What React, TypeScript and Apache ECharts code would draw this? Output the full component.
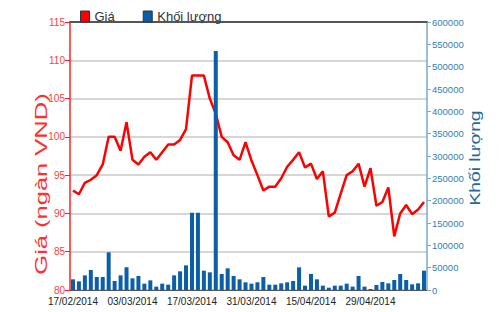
import React, { useEffect, useRef } from "react";
import * as echarts from "echarts";

const dates = [
  "17/02/2014", "18/02/2014", "19/02/2014", "20/02/2014", "21/02/2014",
  "24/02/2014", "25/02/2014", "26/02/2014", "27/02/2014", "28/02/2014",
  "03/03/2014", "04/03/2014", "05/03/2014", "06/03/2014", "07/03/2014",
  "10/03/2014", "11/03/2014", "12/03/2014", "13/03/2014", "14/03/2014",
  "17/03/2014", "18/03/2014", "19/03/2014", "20/03/2014", "21/03/2014",
  "24/03/2014", "25/03/2014", "26/03/2014", "27/03/2014", "28/03/2014",
  "31/03/2014", "01/04/2014", "02/04/2014", "03/04/2014", "04/04/2014",
  "07/04/2014", "08/04/2014", "10/04/2014", "11/04/2014", "14/04/2014",
  "15/04/2014", "16/04/2014", "17/04/2014", "18/04/2014", "21/04/2014",
  "22/04/2014", "23/04/2014", "24/04/2014", "25/04/2014", "28/04/2014",
  "29/04/2014", "02/05/2014", "05/05/2014", "06/05/2014", "07/05/2014",
  "08/05/2014", "09/05/2014", "12/05/2014", "13/05/2014", "14/05/2014",
];

const price = [
  93.0, 92.5, 94.0, 94.4, 95.0, 96.4, 100, 100, 98.2, 101.9,
  97.0, 96.4, 97.4, 98.0, 97.0, 98.0, 99.0, 99.0, 99.6, 101.0,
  108, 108, 108, 105, 103, 100, 99.3, 97.6, 97.0, 99.3,
  96.9, 95.0, 93.0, 93.5, 93.5, 94.6, 96.1, 97.0, 98.0, 96.0,
  96.5, 94.5, 95.5, 89.6, 90.1, 92.6, 95.0, 95.5, 96.5, 93.5,
  95.9, 91.0, 91.5, 93.4, 87.0, 90.0, 91.1, 89.9, 90.5, 91.5,
];

const volume = [
  23900, 19400, 32800, 44800, 29100, 29100, 84300, 20100, 32800, 50700,
  26100, 31300, 14200, 21600, 7500, 14200, 11900, 32800, 41800, 55200,
  173000, 173000, 43300, 39500, 535000, 35800, 48500, 31300, 23900, 17200,
  14200, 17200, 29100, 11900, 11900, 14900, 17200, 20100, 50700, 9700,
  35800, 23900, 9700, 5200, 9700, 9700, 14200, 7500, 31300, 7500,
  2200, 11200, 17900, 14900, 22400, 35800, 22400, 12700, 14900, 43300,
];

const seriesNames = ["Giá", "Khối lượng"];
const leftAxisName = "Giá (ngàn VND)";
const rightAxisName = "Khối lượng";

const sans = "'Liberation Sans', Arial, sans-serif";

export default function App() {
  const ref = useRef<HTMLDivElement>(null);

  useEffect(() => {
    if (!ref.current) return;
    const chart = echarts.init(ref.current, undefined, { renderer: "svg" });
    chart.setOption({
      animation: false,
      backgroundColor: "#ffffff",
      legend: {
        data: seriesNames,
        left: 75,
        top: 5,
        icon: "rect",
        itemWidth: 9,
        itemHeight: 11,
        itemGap: 28,
        itemStyle: { borderColor: "#333", borderWidth: 1 },
        textStyle: { fontSize: 13, color: "#333", fontFamily: sans },
      },
      grid: { left: 70, right: 73, top: 22, bottom: 22 },
      xAxis: [
        {
          type: "category",
          data: dates,
          boundaryGap: true,
          axisLine: { lineStyle: { color: "#555", width: 1 } },
          axisTick: {
            alignWithLabel: true,
            interval: 9,
            length: 4,
            lineStyle: { color: "#222" },
          },
          axisLabel: {
            interval: 9,
            fontSize: 10,
            color: "#222",
            fontFamily: sans,
            margin: 6,
          },
          splitLine: { show: false },
        },
        {
          type: "category",
          data: dates,
          position: "top",
          axisLine: { lineStyle: { color: "#555", width: 2 } },
          axisTick: { show: false },
          axisLabel: { show: false },
          splitLine: { show: false },
        },
      ],
      yAxis: [
        {
          type: "value",
          min: 80,
          max: 115,
          interval: 5,
          position: "left",
          axisLine: { show: true, lineStyle: { color: "#ff2020", width: 1.5 } },
          axisTick: { show: true, length: 5, lineStyle: { color: "#ff2020" } },
          axisLabel: { fontSize: 10, color: "#ff4040", fontFamily: sans, margin: 5 },
          splitLine: { show: true, lineStyle: { color: "#d6d6d6", width: 2 } },
        },
        {
          type: "value",
          min: 0,
          max: 600000,
          interval: 50000,
          position: "right",
          axisLine: { show: true, lineStyle: { color: "#7aaacb", width: 1.5 } },
          axisTick: { show: true, length: 4, lineStyle: { color: "#7aaacb" } },
          axisLabel: {
            fontSize: 9.5,
            color: "#2f7fb5",
            fontFamily: sans,
            margin: 5,
            formatter: (v: number) => String(v),
          },
          splitLine: { show: false },
        },
      ],
      series: [
        {
          name: seriesNames[0],
          type: "line",
          data: price,
          yAxisIndex: 0,
          xAxisIndex: 0,
          symbol: "none",
          color: "#ff0000",
          lineStyle: { color: "#ff0000", width: 2.5 },
          z: 2,
        },
        {
          name: seriesNames[1],
          type: "bar",
          data: volume,
          yAxisIndex: 1,
          xAxisIndex: 0,
          barWidth: 4,
          color: "#0b5ea8",
          itemStyle: { color: "#0b5ea8" },
          z: 3,
        },
      ],
      graphic: [
        {
          type: "text",
          x: 41,
          y: 184,
          rotation: Math.PI / 2,
          scaleX: 1.5,
          style: {
            text: leftAxisName,
            fontSize: 17,
            fontFamily: sans,
            fill: "#ff3030",
            textAlign: "center",
            textVerticalAlign: "middle",
            align: "center",
            verticalAlign: "middle",
          },
        },
        {
          type: "text",
          x: 475,
          y: 158,
          rotation: Math.PI / 2,
          scaleX: 1.33,
          style: {
            text: rightAxisName,
            fontSize: 14.5,
            fontFamily: sans,
            fill: "#1e6aa0",
            textAlign: "center",
            textVerticalAlign: "middle",
            align: "center",
            verticalAlign: "middle",
          },
        },
      ],
    });
    return () => chart.dispose();
  }, []);

  return (
    <div
      ref={ref}
      style={{ position: "fixed", left: 0, top: 0, width: 500, height: 312 }}
    />
  );
}
